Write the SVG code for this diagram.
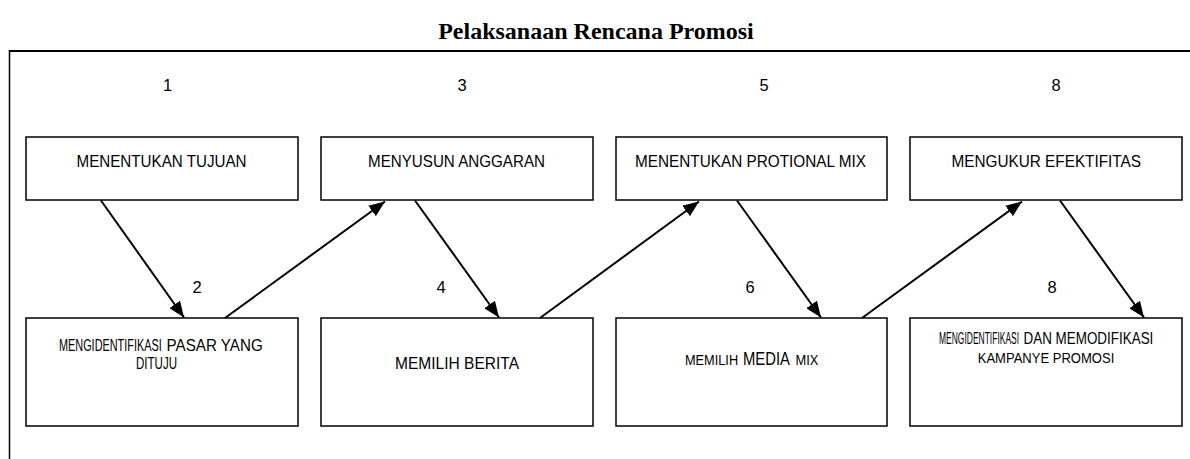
<svg xmlns="http://www.w3.org/2000/svg" width="1190" height="459" viewBox="0 0 1190 459">
<style>
.box{fill:#fff;stroke:#000;stroke-width:1.5}
.t{font-family:"Liberation Sans",Arial,sans-serif;fill:#000}
.num{font-family:"Liberation Sans",Arial,sans-serif;font-size:16.5px;fill:#000;text-anchor:middle}
.title{font-family:"Liberation Serif","Times New Roman",serif;font-weight:bold;font-size:24px;text-anchor:middle;fill:#000}
.con line{stroke:#000;stroke-width:2;marker-end:url(#ah)}
</style>
<defs>
<marker id="ah" markerUnits="userSpaceOnUse" markerWidth="17" markerHeight="13" refX="16" refY="6.5" orient="auto">
<path d="M0,0 L16,6.5 L0,13 z" fill="#000"/>
</marker>
</defs>
<rect width="1190" height="459" fill="#fff"/>
<text class="title" x="596" y="39">Pelaksanaan Rencana Promosi</text>
<g id="frame">
<line x1="9.5" y1="51" x2="1190" y2="51" stroke="#000" stroke-width="2"/>
<line x1="9.5" y1="50" x2="9.5" y2="459" stroke="#000" stroke-width="1.5"/>
</g>
<g id="numbers">
<text class="num" x="167.6" y="91">1</text>
<text class="num" x="462" y="91">3</text>
<text class="num" x="764" y="91">5</text>
<text class="num" x="1056" y="91">8</text>
<text class="num" x="197" y="292.7">2</text>
<text class="num" x="441" y="292.7">4</text>
<text class="num" x="750" y="292.7">6</text>
<text class="num" x="1052" y="292.7">8</text>
</g>
<g id="n1">
<rect class="box" x="26" y="137" width="272" height="63"/>
<text class="t" x="76.5" y="166.5" font-size="17" textLength="170" lengthAdjust="spacingAndGlyphs">MENENTUKAN TUJUAN</text>
</g>
<g id="n3">
<rect class="box" x="321" y="137" width="272" height="63"/>
<text class="t" x="368" y="166.5" font-size="17" textLength="177" lengthAdjust="spacingAndGlyphs">MENYUSUN ANGGARAN</text>
</g>
<g id="n5">
<rect class="box" x="616" y="137" width="271" height="63"/>
<text class="t" x="635" y="166.5" font-size="17" textLength="231" lengthAdjust="spacingAndGlyphs">MENENTUKAN PROTIONAL MIX</text>
</g>
<g id="n8a">
<rect class="box" x="910" y="137" width="272" height="63"/>
<text class="t" x="951.5" y="166.5" font-size="17" textLength="189.5" lengthAdjust="spacingAndGlyphs">MENGUKUR EFEKTIFITAS</text>
</g>
<g id="n2">
<rect class="box" x="26" y="318" width="272" height="108"/>
<text class="t" font-size="16" transform="translate(59,350.7) scale(0.68,1)">MENGIDENTIFIKASI</text>
<text class="t" font-size="16" transform="translate(166.5,350.7) scale(0.95,1)">PASAR YANG</text>
<text class="t" x="136" y="369.3" font-size="16" textLength="41" lengthAdjust="spacingAndGlyphs">DITUJU</text>
</g>
<g id="n4">
<rect class="box" x="321" y="318" width="272" height="108"/>
<text class="t" x="395" y="369.3" font-size="16" textLength="124" lengthAdjust="spacingAndGlyphs">MEMILIH BERITA</text>
</g>
<g id="n6">
<rect class="box" x="616" y="318" width="271" height="108"/>
<text class="t" font-size="15" transform="translate(685,365) scale(0.85,1)">MEMILIH</text>
<text class="t" font-size="18.5" transform="translate(743,365) scale(0.8,1)">MEDIA</text>
<text class="t" font-size="15" transform="translate(795.5,365) scale(0.86,1)">MIX</text>
</g>
<g id="n8b">
<rect class="box" x="910" y="318" width="272" height="108"/>
<text class="t" font-size="16" transform="translate(939,344.3) scale(0.53,1)">MENGIDENTIFIKASI</text>
<text class="t" font-size="16" transform="translate(1023.5,344.3) scale(0.84,1)">DAN MEMODIFIKASI</text>
<text class="t" x="977.7" y="362.7" font-size="15" textLength="136.6" lengthAdjust="spacingAndGlyphs">KAMPANYE PROMOSI</text>
</g>
<g id="connectors" class="con">
<line x1="101" y1="200.5" x2="184" y2="317.5"/>
<line x1="225" y1="318" x2="385" y2="201.5"/>
<line x1="415" y1="200.5" x2="499" y2="317.5"/>
<line x1="540" y1="318" x2="699" y2="201.5"/>
<line x1="737" y1="200.5" x2="821" y2="317.5"/>
<line x1="862" y1="318" x2="1022" y2="201.5"/>
<line x1="1060" y1="200.5" x2="1144" y2="317.5"/>
</g>
</svg>
